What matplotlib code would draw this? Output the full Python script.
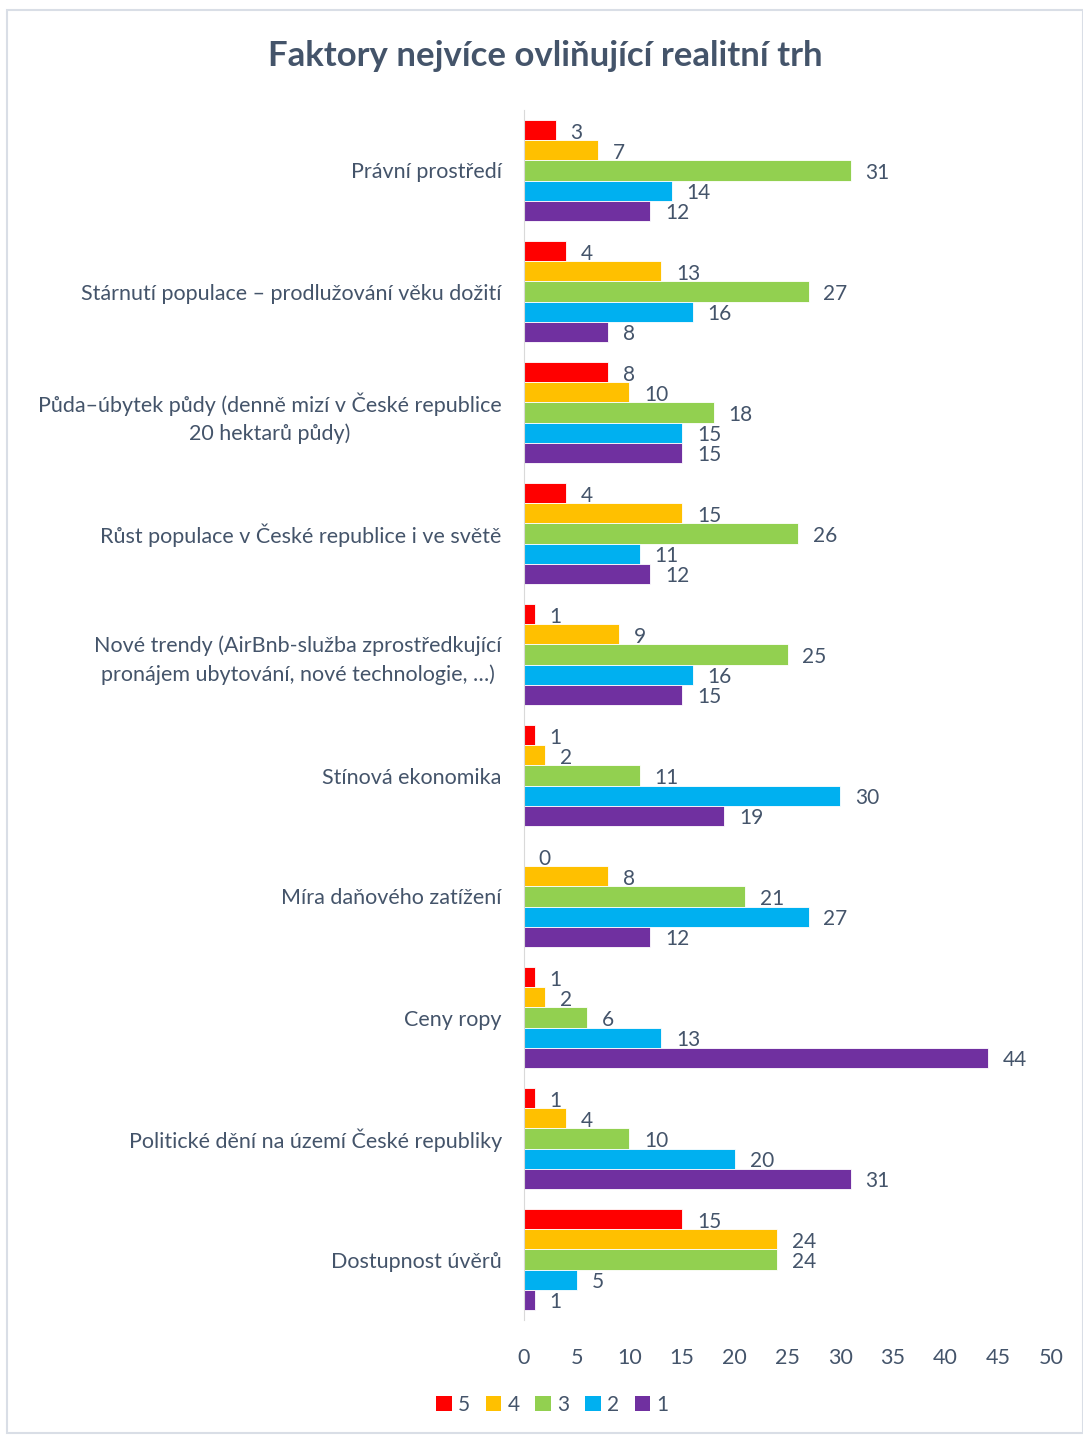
import matplotlib.pyplot as plt
import numpy as np
from matplotlib.patches import Rectangle, Patch

plt.rcParams['font.family'] = ['Lato', 'DejaVu Sans']

categories = ['Právní prostředí',
              'Stárnutí populace – prodlužování věku dožití',
              'Půda–úbytek půdy (denně mizí v České republice\n20 hektarů půdy)',
              'Růst populace v České republice i ve světě',
              'Nové trendy (AirBnb-služba zprostředkující\npronájem ubytování, nové technologie, …)',
              'Stínová ekonomika',
              'Míra daňového zatížení',
              'Ceny ropy',
              'Politické dění na území České republiky',
              'Dostupnost úvěrů']
s5 = [3, 4, 8, 4, 1, 1, 0, 1, 1, 15]
s4 = [7, 13, 10, 15, 9, 2, 8, 2, 4, 24]
s3 = [31, 27, 18, 26, 25, 11, 21, 6, 10, 24]
s2 = [14, 16, 15, 11, 16, 30, 27, 13, 20, 5]
s1 = [12, 8, 15, 12, 15, 19, 12, 44, 31, 1]
series = [('5', s5, '#FF0000'), ('4', s4, '#FFC000'), ('3', s3, '#92D050'),
          ('2', s2, '#00B0F0'), ('1', s1, '#7030A0')]

txt = '#44546A'
fig = plt.figure(figsize=(10.83, 14.36), dpi=100)
fig.patches.append(Rectangle((7/1083, 0.002), 1 - 7/1083, 1 - 10/1436 - 0.002,
                             transform=fig.transFigure, fill=False,
                             edgecolor='#D9DEE6', lw=1.5))
ax = fig.add_axes([524/1083, 1 - 1320/1436, 527/1083, 1210/1436])

y = np.arange(len(categories))
h = 0.166
handles = []
for i, (name, vals, col) in enumerate(series):
    pos = y - 2*h + i*h
    ax.barh(pos, vals, height=h, color=col, edgecolor='white', lw=0.6)
    handles.append(Patch(facecolor=col, edgecolor='none', label=name))
    for p, v in zip(pos, vals):
        ax.text(v + 1.4, p + 0.02, str(v), va='center', ha='left', fontsize=15, color=txt)

ax.set_ylim(len(categories) - 0.5, -0.5)
ax.set_xlim(0, 50)
ax.set_xticks(range(0, 51, 5))
ax.set_yticks(y)
ax.set_yticklabels(categories, multialignment='center', linespacing=1.45)
ax.tick_params(axis='both', length=0, labelsize=15.5, labelcolor=txt)
ax.tick_params(axis='y', pad=16)
ax.tick_params(axis='x', pad=20)
for s in ['top', 'right', 'bottom']:
    ax.spines[s].set_visible(False)
ax.spines['left'].set_color('#D9D9D9')

fig.text(0.5 + 7/1083/2, 1 - 56/1436, 'Faktory nejvíce ovliňující realitní trh', ha='center', va='center',
         fontsize=25, fontweight='bold', color=txt)
fig.legend(handles=handles, loc='center', bbox_to_anchor=(0.51, 1 - 1405/1436), ncol=5,
           frameon=False, fontsize=15, labelcolor=txt, handlelength=0.75, handleheight=0.75,
           handletextpad=0.3, columnspacing=0.75)

plt.savefig('out.png')
